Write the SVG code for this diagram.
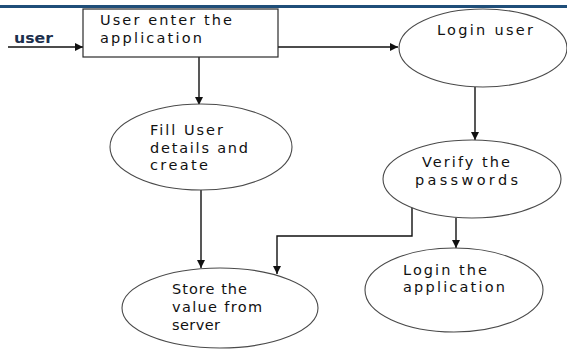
<svg xmlns="http://www.w3.org/2000/svg" width="567" height="349" viewBox="0 0 567 349">
  <style>
    .node { fill: #ffffff; stroke: #4a4a4a; stroke-width: 1.1; }
    .box { fill: #ffffff; stroke: #2b2b2b; stroke-width: 1.2; }
    .lbl { font-family: "DejaVu Sans", "Liberation Sans", sans-serif; font-size: 14.5px; fill: #111111; }
    .flow { fill: none; stroke: #111111; stroke-width: 1.4; }
  </style>
  <defs>
    <marker id="arrow" viewBox="0 0 10 10" refX="10" refY="5" markerWidth="8" markerHeight="8" markerUnits="userSpaceOnUse" orient="auto">
      <path d="M0,0 L10,5 L0,10 Z" fill="#111111"/>
    </marker>
  </defs>

  <rect width="567" height="349" fill="#ffffff"/>
  <!-- page header rule -->
  <rect x="0" y="5" width="567" height="3" fill="#1f4e79"/>

  <g id="connectors">
    <line class="flow" x1="8" y1="47" x2="83" y2="47" marker-end="url(#arrow)"/>
    <line class="flow" x1="278" y1="47" x2="398" y2="47" marker-end="url(#arrow)"/>
    <line class="flow" x1="199" y1="57" x2="199" y2="105" marker-end="url(#arrow)"/>
    <line class="flow" x1="475" y1="87" x2="475" y2="140" marker-end="url(#arrow)"/>
    <line class="flow" x1="201" y1="190" x2="201" y2="268" marker-end="url(#arrow)"/>
    <polyline class="flow" points="412,207 412,236 277,236 277,274" marker-end="url(#arrow)"/>
    <line class="flow" x1="456" y1="218" x2="456" y2="248" marker-end="url(#arrow)"/>
  </g>

  <g id="user-input">
    <text class="lbl" x="14" y="43" textLength="39" lengthAdjust="spacingAndGlyphs" style="fill:#1c2f4d;font-weight:bold">user</text>
  </g>

  <g id="enter-application">
    <rect class="box" x="83" y="9" width="195" height="48"/>
    <text class="lbl" x="100" y="25" textLength="132" lengthAdjust="spacing">User enter the</text>
    <text class="lbl" x="100" y="43" textLength="102" lengthAdjust="spacing">application</text>
  </g>

  <g id="login-user">
    <ellipse class="node" cx="483" cy="48" rx="84" ry="39"/>
    <text class="lbl" x="437" y="35" textLength="96" lengthAdjust="spacing">Login user</text>
  </g>

  <g id="fill-details">
    <ellipse class="node" cx="201" cy="147" rx="91" ry="43"/>
    <text class="lbl" x="150" y="135" textLength="73" lengthAdjust="spacing">Fill User</text>
    <text class="lbl" x="150" y="153" textLength="98" lengthAdjust="spacing">details and</text>
    <text class="lbl" x="150" y="170" textLength="58" lengthAdjust="spacing">create</text>
  </g>

  <g id="verify-passwords">
    <ellipse class="node" cx="472" cy="179" rx="89" ry="39"/>
    <text class="lbl" x="422" y="167" textLength="88" lengthAdjust="spacing">Verify the</text>
    <text class="lbl" x="415" y="185" textLength="103" lengthAdjust="spacing">passwords</text>
  </g>

  <g id="login-application">
    <ellipse class="node" cx="454" cy="290" rx="89" ry="42"/>
    <text class="lbl" x="403" y="275" textLength="84" lengthAdjust="spacing">Login the</text>
    <text class="lbl" x="403" y="292" textLength="102" lengthAdjust="spacing">application</text>
  </g>

  <g id="store-value">
    <ellipse class="node" cx="220" cy="308" rx="98" ry="40"/>
    <text class="lbl" x="172" y="294" textLength="75" lengthAdjust="spacing">Store the</text>
    <text class="lbl" x="172" y="312" textLength="90" lengthAdjust="spacing">value from</text>
    <text class="lbl" x="172" y="330" textLength="48" lengthAdjust="spacing">server</text>
  </g>
</svg>
